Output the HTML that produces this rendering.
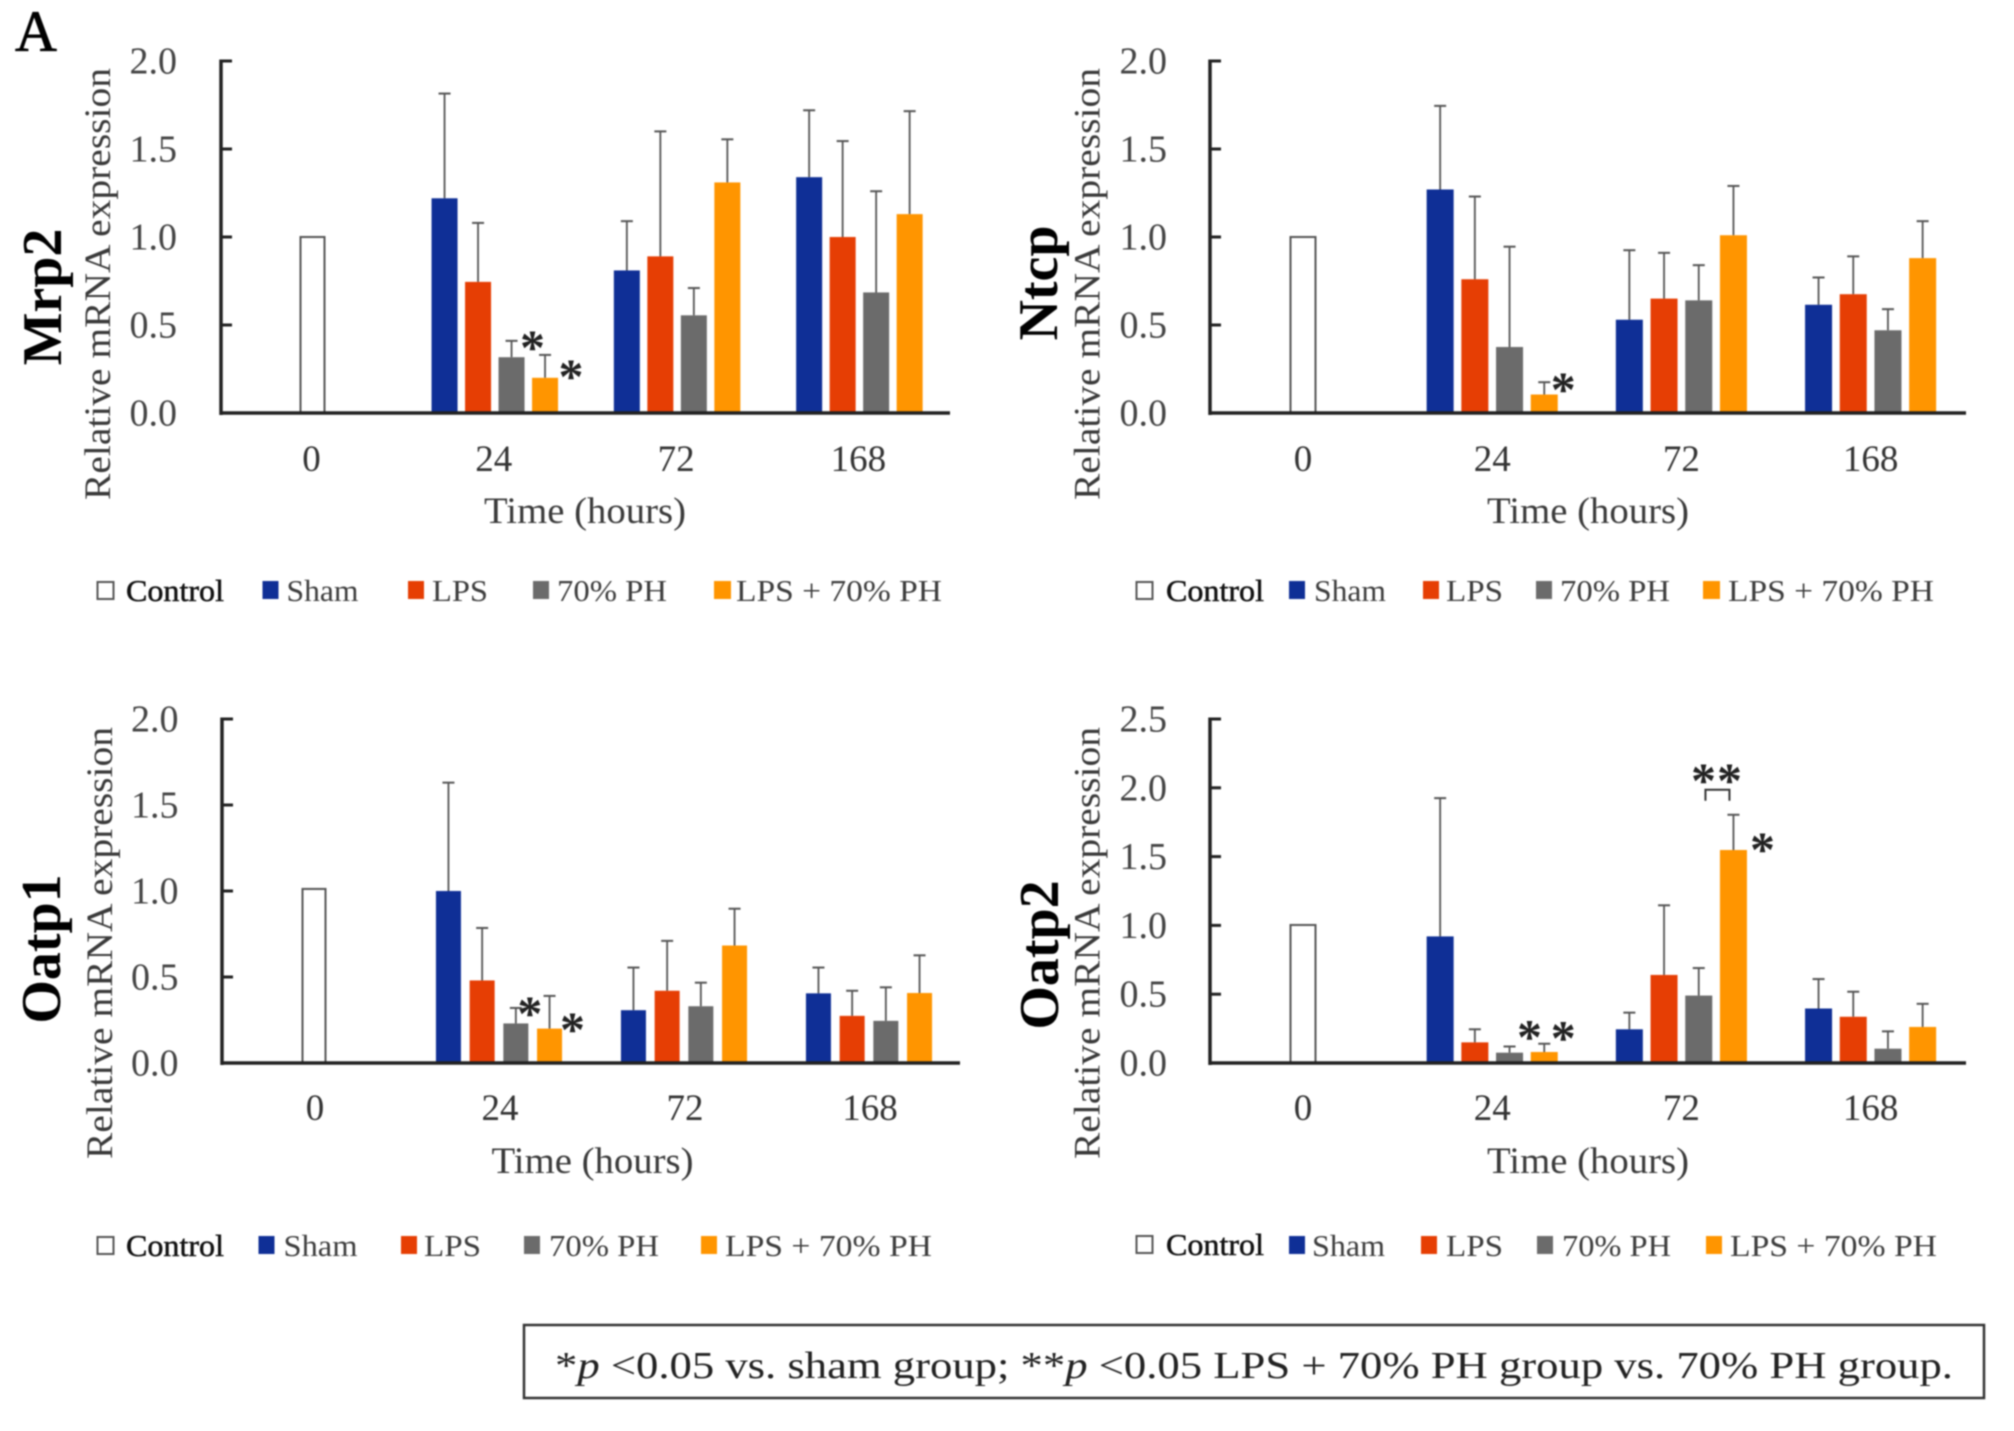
<!DOCTYPE html>
<html lang="en">
<head>
<meta charset="utf-8">
<title>Relative mRNA expression of Mrp2, Ntcp, Oatp1 and Oatp2</title>
<style>
html,body{margin:0;padding:0;background:#fff;width:2014px;height:1431px;overflow:hidden}
svg{display:block;filter:blur(0.8px);font-family:"Liberation Serif",serif}
.lg{font-size:31px;fill:#3d3d3d}
.lgc{font-size:31px;fill:#111;stroke:#111;stroke-width:.5}
.tick{font-size:38px;fill:#444}
.cat{font-size:37px;fill:#333}
.ax{font-size:37px;fill:#3a3a3a}
.gene{font-size:56px;font-weight:bold;fill:#000}
</style>
</head>
<body>
<svg id="fig" xmlns="http://www.w3.org/2000/svg" width="2014" height="1431" viewBox="0 0 2014 1431">
<rect width="2014" height="1431" fill="#fff"/>
<text x="15" y="51" font-size="58" fill="#000" stroke="#000" stroke-width="0.8">A</text>

<g transform="translate(0,-4)">
<g transform="translate(-1,0)"><rect x="98.5" y="586" width="16" height="17" fill="#fff" stroke="#555" stroke-width="2"/><text class="lgc" x="127" y="605" textLength="98" lengthAdjust="spacingAndGlyphs">Control</text></g>
<g transform="translate(-1.5,0)"><rect x="264" y="585" width="16" height="18" fill="#0f2f96"/><text class="lg" x="288" y="605" textLength="72" lengthAdjust="spacingAndGlyphs">Sham</text></g>
<g transform="translate(-2,0)"><rect x="410" y="585" width="16" height="18" fill="#e63e04"/><text class="lg" x="434" y="605" textLength="56" lengthAdjust="spacingAndGlyphs">LPS</text></g>
<g transform="translate(-3,0)"><rect x="536" y="585" width="16" height="18" fill="#6b6b6b"/><text class="lg" x="560" y="605" textLength="110" lengthAdjust="spacingAndGlyphs">70% PH</text></g>
<g transform="translate(-4,0)"><rect x="718" y="585" width="17" height="18" fill="#ff9500"/><text class="lg" x="740" y="605" textLength="206" lengthAdjust="spacingAndGlyphs">LPS + 70% PH</text></g>
</g>

<g transform="translate(0,-4)">
<g><rect x="1136.5" y="586" width="16" height="17" fill="#fff" stroke="#555" stroke-width="2"/><text class="lgc" x="1166" y="605" textLength="98" lengthAdjust="spacingAndGlyphs">Control</text></g>
<g transform="translate(-2,0)"><rect x="1291" y="585" width="16" height="18" fill="#0f2f96"/><text class="lg" x="1316" y="605" textLength="72" lengthAdjust="spacingAndGlyphs">Sham</text></g>
<g transform="translate(-2,0)"><rect x="1425" y="585" width="16" height="18" fill="#e63e04"/><text class="lg" x="1448" y="605" textLength="57" lengthAdjust="spacingAndGlyphs">LPS</text></g>
<g transform="translate(-3,0)"><rect x="1539" y="585" width="16" height="18" fill="#6b6b6b"/><text class="lg" x="1563" y="605" textLength="110" lengthAdjust="spacingAndGlyphs">70% PH</text></g>
<g transform="translate(-5,0)"><rect x="1708" y="585" width="17" height="18" fill="#ff9500"/><text class="lg" x="1733" y="605" textLength="206" lengthAdjust="spacingAndGlyphs">LPS + 70% PH</text></g>
</g>

<g transform="translate(0,-6)">
<g transform="translate(-1,0)"><rect x="98.5" y="1243" width="16" height="17" fill="#fff" stroke="#555" stroke-width="2"/><text class="lgc" x="127" y="1262" textLength="98" lengthAdjust="spacingAndGlyphs">Control</text></g>
<g transform="translate(-1.5,0)"><rect x="260" y="1242" width="16" height="18" fill="#0f2f96"/><text class="lg" x="285" y="1262" textLength="74" lengthAdjust="spacingAndGlyphs">Sham</text></g>
<g transform="translate(-2,0)"><rect x="403" y="1242" width="16" height="18" fill="#e63e04"/><text class="lg" x="426" y="1262" textLength="57" lengthAdjust="spacingAndGlyphs">LPS</text></g>
<g transform="translate(-3,0)"><rect x="527" y="1242" width="16" height="18" fill="#6b6b6b"/><text class="lg" x="552" y="1262" textLength="110" lengthAdjust="spacingAndGlyphs">70% PH</text></g>
<g transform="translate(-4,0)"><rect x="705" y="1242" width="16" height="18" fill="#ff9500"/><text class="lg" x="729" y="1262" textLength="207" lengthAdjust="spacingAndGlyphs">LPS + 70% PH</text></g>
</g>

<g transform="translate(0,-6)">
<g><rect x="1136.5" y="1242" width="16" height="17" fill="#fff" stroke="#555" stroke-width="2"/><text class="lgc" x="1166" y="1261" textLength="98" lengthAdjust="spacingAndGlyphs">Control</text></g>
<g transform="translate(-2,0)"><rect x="1291" y="1242" width="16" height="18" fill="#0f2f96"/><text class="lg" x="1314" y="1262" textLength="73" lengthAdjust="spacingAndGlyphs">Sham</text></g>
<g transform="translate(-2,0)"><rect x="1423" y="1242" width="16" height="18" fill="#e63e04"/><text class="lg" x="1448" y="1262" textLength="57" lengthAdjust="spacingAndGlyphs">LPS</text></g>
<g transform="translate(-3,0)"><rect x="1540" y="1242" width="16" height="18" fill="#6b6b6b"/><text class="lg" x="1565" y="1262" textLength="109" lengthAdjust="spacingAndGlyphs">70% PH</text></g>
<g transform="translate(-5,0)"><rect x="1711" y="1242" width="16" height="18" fill="#ff9500"/><text class="lg" x="1735" y="1262" textLength="207" lengthAdjust="spacingAndGlyphs">LPS + 70% PH</text></g>
</g>

<g>
<rect x="524" y="1325" width="1460" height="73" fill="#fff" stroke="#333" stroke-width="2.5"/>
<text x="555" y="1378" font-size="38" fill="#222" textLength="1398" lengthAdjust="spacingAndGlyphs">*<tspan font-style="italic">p</tspan> &lt;0.05 vs. sham group; **<tspan font-style="italic">p</tspan> &lt;0.05 LPS + 70% PH group vs. 70% PH group.</text>
</g>
</svg>

<script>
const categories = ['0', '24', '72', '168'];
const seriesColors = ['#0f2f96', '#e63e04', '#6b6b6b', '#ff9500'];
const seriesKeys = ['sham', 'lps', '70-ph', 'lps-70-ph'];
const ticksDefault = ['0.0', '0.5', '1.0', '1.5', '2.0'];
const ticksOatp2 = ['0.0', '0.5', '1.0', '1.5', '2.0', '2.5'];

const mrp2Control = 1.0;
const mrp2Sham = [1.22, 0.81, 1.34];
const mrp2ShamErr = [0.595, 0.28, 0.38];
const mrp2Lps = [0.745, 0.89, 1.0];
const mrp2LpsErr = [0.335, 0.71, 0.545];
const mrp2Ph = [0.317, 0.555, 0.685];
const mrp2PhErr = [0.093, 0.155, 0.575];
const mrp2LpsPh = [0.2, 1.31, 1.13];
const mrp2LpsPhErr = [0.13, 0.245, 0.585];

const ntcpControl = 1.0;
const ntcpSham = [1.27, 0.53, 0.615];
const ntcpShamErr = [0.475, 0.395, 0.155];
const ntcpLps = [0.76, 0.65, 0.675];
const ntcpLpsErr = [0.47, 0.26, 0.215];
const ntcpPh = [0.375, 0.64, 0.47];
const ntcpPhErr = [0.57, 0.2, 0.12];
const ntcpLpsPh = [0.105, 1.01, 0.88];
const ntcpLpsPhErr = [0.07, 0.28, 0.21];

const oatp1Control = 1.012;
const oatp1Sham = [1.0, 0.307, 0.405];
const oatp1ShamErr = [0.63, 0.248, 0.15];
const oatp1Lps = [0.48, 0.42, 0.274];
const oatp1LpsErr = [0.305, 0.29, 0.146];
const oatp1Ph = [0.23, 0.33, 0.245];
const oatp1PhErr = [0.09, 0.137, 0.195];
const oatp1LpsPh = [0.2, 0.683, 0.407];
const oatp1LpsPhErr = [0.19, 0.214, 0.219];

const oatp2Control = 1.003;
const oatp2Sham = [0.92, 0.245, 0.396];
const oatp2ShamErr = [1.005, 0.121, 0.214];
const oatp2Lps = [0.15, 0.64, 0.336];
const oatp2LpsErr = [0.095, 0.506, 0.182];
const oatp2Ph = [0.075, 0.49, 0.104];
const oatp2PhErr = [0.045, 0.2, 0.126];
const oatp2LpsPh = [0.08, 1.548, 0.262];
const oatp2LpsPhErr = [0.06, 0.256, 0.168];

const NS = 'http://www.w3.org/2000/svg';
const fig = document.getElementById('fig');

function svgEl(tag, parent, attrs, text) {
  const el = document.createElementNS(NS, tag);
  for (const k in attrs) el.setAttribute(k, attrs[k]);
  if (text !== undefined) el.textContent = text;
  parent.appendChild(el);
  return el;
}

function drawPanel(cfg) {
  const g = svgEl('g', fig, {});
  
  

  const ticks = cfg.ticks;
  const yMax = parseFloat(ticks[ticks.length - 1]);
  const yScale = function (v) { return cfg.y0 - (v / yMax) * (cfg.y0 - cfg.yTop); };
  const xCenter = function (i) { return cfg.center0 + cfg.band * i; };
  const barX = function (groupIndex, seriesIndex) {
    return xCenter(groupIndex + 1) + (seriesIndex - 1.5) * cfg.pitch;
  };

  const gene = svgEl('text', g, { class: 'gene', transform: 'translate(' + cfg.geneX + ',' + cfg.geneY + ') rotate(-90)', 'text-anchor': 'middle' }, cfg.gene);
  
  

  const yTitle = svgEl('text', g, { class: 'ax', transform: 'translate(' + cfg.titleX + ',' + cfg.titleY + ') rotate(-90)', 'text-anchor': 'middle', textLength: 432, lengthAdjust: 'spacingAndGlyphs', 'xml:space': 'preserve' }, 'Relative  mRNA expression');
  
  

  ticks.forEach(function (label) {
    const v = parseFloat(label);
    const t = svgEl('text', g, { class: 'tick', x: cfg.labelX, y: yScale(v) + 12.5, 'text-anchor': 'end' }, label);
    
    
    if (v > 0) {
      const m = svgEl('line', g, { x1: cfg.x0, x2: cfg.x0 + 11, y1: yScale(v), y2: yScale(v), stroke: '#222', 'stroke-width': 3 });
      
      
    }
  });

  categories.forEach(function (label, i) {
    const t = svgEl('text', g, { class: 'cat', x: xCenter(i) + cfg.catDx, y: cfg.catY, 'text-anchor': 'middle' }, label);
    
    
  });

  const xTitle = svgEl('text', g, { class: 'ax', x: cfg.xTitleX, y: cfg.xTitleY, 'text-anchor': 'middle', textLength: 202, lengthAdjust: 'spacingAndGlyphs' }, 'Time (hours)');
  
  

  const ctrl = svgEl('rect', g, { x: xCenter(0) - cfg.barW / 2 + 1, y: yScale(cfg.control), width: cfg.barW - 2, height: cfg.y0 - yScale(cfg.control), fill: '#fff', stroke: '#555', 'stroke-width': 2 });
  
  

  cfg.series.forEach(function (vals, s) {
    vals.forEach(function (v, k) {
      const cx = barX(k, s);
      const top = yScale(v + cfg.errors[s][k]);
      const stem = svgEl('line', g, { x1: cx, x2: cx, y1: yScale(v), y2: top, stroke: '#555', 'stroke-width': 1.8 });
      
      
      const cap = svgEl('line', g, { x1: cx - 6, x2: cx + 6, y1: top, y2: top, stroke: '#555', 'stroke-width': 2 });
      
      
      const bar = svgEl('rect', g, { x: cx - cfg.barW / 2, y: yScale(v), width: cfg.barW, height: cfg.y0 - yScale(v), fill: seriesColors[s] });
      
      
    });
  });

  const yAxis = svgEl('line', g, { x1: cfg.x0, x2: cfg.x0, y1: cfg.yTop - 1.5, y2: cfg.y0 + 2, stroke: '#222', 'stroke-width': 3.5 });
  
  
  const xAxis = svgEl('line', g, { x1: cfg.x0, x2: cfg.xEnd, y1: cfg.y0, y2: cfg.y0, stroke: '#222', 'stroke-width': 3.5 });
  
  

  function errTop(k, s) { return yScale(cfg.series[s][k] + cfg.errors[s][k]); }

  (cfg.stars || []).forEach(function (st) {
    const mark = svgEl('text', g, { x: barX(st.g, st.s) + st.dx, y: errTop(st.g, st.s) + st.dy + 23, 'text-anchor': 'middle', 'font-size': 50, 'font-weight': 'bold', fill: '#222' }, '*');
    
    
  });

  if (cfg.bracket) {
    const b = cfg.bracket;
    const base = errTop(b.g, b.s);
    const cx = barX(b.g, b.s);
    const br = svgEl('path', g, { d: 'M' + (cx + b.x1) + ' ' + (base + b.low) + 'V' + (base + b.high) + 'H' + (cx + b.x2) + 'V' + (base + b.low), fill: 'none', stroke: '#333', 'stroke-width': 2 });
    
    
  }
}

drawPanel({
  gene: 'Mrp2', geneX: 61, geneY: 297, titleX: 110, titleY: 284,
  x0: 221, xEnd: 950, y0: 413, yTop: 61, labelX: 177, center0: 312.5, band: 182.3, pitch: 33.5, barW: 26, catDx: -1,
  catY: 471, xTitleX: 585, xTitleY: 523, ticks: ticksDefault, control: mrp2Control,
  series: [mrp2Sham, mrp2Lps, mrp2Ph, mrp2LpsPh],
  errors: [mrp2ShamErr, mrp2LpsErr, mrp2PhErr, mrp2LpsPhErr],
  stars: [{ g: 0, s: 2, dx: 21, dy: 0 }, { g: 0, s: 3, dx: 26, dy: 15 }]
});

drawPanel({
  gene: 'Ntcp', geneX: 1057, geneY: 283, titleX: 1099.5, titleY: 284,
  x0: 1210, xEnd: 1966, y0: 413, yTop: 61, labelX: 1167, center0: 1303, band: 189.2, pitch: 34.7, barW: 27, catDx: 0,
  catY: 471, xTitleX: 1588, xTitleY: 523, ticks: ticksDefault, control: ntcpControl,
  series: [ntcpSham, ntcpLps, ntcpPh, ntcpLpsPh],
  errors: [ntcpShamErr, ntcpLpsErr, ntcpPhErr, ntcpLpsPhErr],
  stars: [{ g: 0, s: 3, dx: 19, dy: 1 }]
});

drawPanel({
  gene: 'Oatp1', geneX: 60, geneY: 949, titleX: 112, titleY: 943,
  x0: 222, xEnd: 960, y0: 1063, yTop: 719, labelX: 178.5, center0: 314, band: 185, pitch: 33.7, barW: 25, catDx: 1,
  catY: 1120, xTitleX: 592.5, xTitleY: 1173, ticks: ticksDefault, control: oatp1Control,
  series: [oatp1Sham, oatp1Lps, oatp1Ph, oatp1LpsPh],
  errors: [oatp1ShamErr, oatp1LpsErr, oatp1PhErr, oatp1LpsPhErr],
  stars: [{ g: 0, s: 2, dx: 14, dy: -1 }, { g: 0, s: 3, dx: 23, dy: 27 }]
});

drawPanel({
  gene: 'Oatp2', geneX: 1058, geneY: 955, titleX: 1099.5, titleY: 943,
  x0: 1210, xEnd: 1966, y0: 1063, yTop: 719, labelX: 1167, center0: 1303, band: 189.2, pitch: 34.7, barW: 27, catDx: 0,
  catY: 1120, xTitleX: 1588, xTitleY: 1173, ticks: ticksOatp2, control: oatp2Control,
  series: [oatp2Sham, oatp2Lps, oatp2Ph, oatp2LpsPh],
  errors: [oatp2ShamErr, oatp2LpsErr, oatp2PhErr, oatp2LpsPhErr],
  stars: [
    { g: 0, s: 2, dx: 20, dy: -16 }, { g: 0, s: 3, dx: 19, dy: -12 },
    { g: 1, s: 3, dx: 29, dy: 28 }, { g: 1, s: 3, dx: -30, dy: -41 }, { g: 1, s: 3, dx: -4, dy: -41 }
  ],
  bracket: { g: 1, s: 3, x1: -28, x2: -4, low: -14, high: -25 }
});
</script>
</body>
</html>
